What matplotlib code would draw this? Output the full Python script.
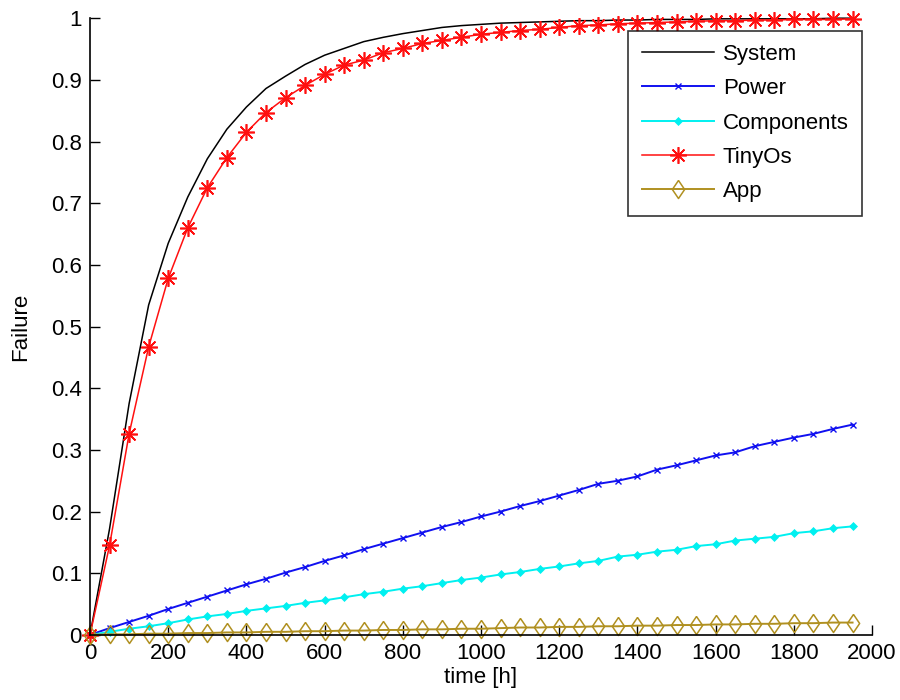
import matplotlib
matplotlib.use("Agg")
import matplotlib.pyplot as plt
from matplotlib.ticker import FuncFormatter

plt.rcParams['font.family'] = ['Liberation Sans', 'DejaVu Sans']

# time axis in hours, sampled every 50 h
time_h = [0, 50, 100, 150, 200, 250, 300, 350, 400, 450,
          500, 550, 600, 650, 700, 750, 800, 850, 900, 950,
          1000, 1050, 1100, 1150, 1200, 1250, 1300, 1350, 1400, 1450,
          1500, 1550, 1600, 1650, 1700, 1750, 1800, 1850, 1900, 1950]

system = [0.000, 0.172, 0.375, 0.535, 0.635, 0.710, 0.772, 0.820, 0.856, 0.886,
          0.906, 0.925, 0.940, 0.951, 0.962, 0.969, 0.975, 0.980, 0.985, 0.988,
          0.990, 0.992, 0.993, 0.994, 0.995, 0.996, 0.996, 0.997, 0.997, 0.998,
          0.998, 0.998, 0.999, 0.999, 0.999, 0.999, 0.999, 0.999, 1.000, 1.000]

power = [0.000, 0.011, 0.021, 0.031, 0.042, 0.052, 0.062, 0.072, 0.082, 0.091,
         0.101, 0.110, 0.120, 0.129, 0.139, 0.148, 0.157, 0.166, 0.175, 0.183,
         0.192, 0.200, 0.209, 0.217, 0.226, 0.235, 0.245, 0.250, 0.257, 0.268,
         0.275, 0.283, 0.291, 0.296, 0.306, 0.313, 0.320, 0.326, 0.334, 0.341]

components = [0.000, 0.005, 0.010, 0.014, 0.019, 0.025, 0.030, 0.034, 0.039, 0.043,
              0.047, 0.052, 0.056, 0.061, 0.066, 0.070, 0.075, 0.079, 0.084, 0.089,
              0.093, 0.098, 0.102, 0.107, 0.111, 0.116, 0.120, 0.127, 0.130, 0.135,
              0.138, 0.144, 0.147, 0.153, 0.156, 0.159, 0.165, 0.168, 0.173, 0.176]

tinyos = [0.000, 0.145, 0.326, 0.467, 0.578, 0.660, 0.725, 0.774, 0.815, 0.847,
          0.871, 0.891, 0.909, 0.924, 0.932, 0.944, 0.951, 0.959, 0.964, 0.969,
          0.974, 0.977, 0.980, 0.982, 0.985, 0.988, 0.989, 0.991, 0.992, 0.993,
          0.994, 0.995, 0.996, 0.996, 0.997, 0.997, 0.998, 0.998, 0.998, 0.999]

app = [0.000, 0.001, 0.001, 0.002, 0.002, 0.003, 0.003, 0.004, 0.004, 0.005,
       0.005, 0.006, 0.006, 0.007, 0.007, 0.008, 0.008, 0.009, 0.009, 0.010,
       0.010, 0.011, 0.012, 0.012, 0.013, 0.013, 0.014, 0.014, 0.015, 0.015,
       0.016, 0.016, 0.017, 0.017, 0.018, 0.018, 0.019, 0.019, 0.020, 0.020]

x_ticks = [0, 200, 400, 600, 800, 1000, 1200, 1400, 1600, 1800, 2000]
y_ticks = [0, 0.1, 0.2, 0.3, 0.4, 0.5, 0.6, 0.7, 0.8, 0.9, 1]

FS = 16

fig = plt.figure(figsize=(9, 7), dpi=100)
ax = fig.add_axes([0.1, 0.093, 0.869, 0.881])

# 8-spoke asterisk and a tall open diamond
asterisk = (8, 2, 0)
tall_diamond = [(0, 1), (0.68, 0), (0, -1), (-0.68, 0), (0, 1)]

ax.plot(time_h, system, color='black', lw=1.1, label='System', clip_on=False)
ax.plot(time_h, power, color='#1010F0', lw=1.4, marker='x', ms=5, mew=1.0,
        label='Power', clip_on=False)
ax.plot(time_h, components, color='#00F0F0', lw=1.4, marker='D', ms=4.5, mew=0.5,
        label='Components', clip_on=False)
ax.plot(time_h, tinyos, color='#FF1010', lw=1.1, marker=asterisk, ms=12, mew=1.2,
        label='TinyOs', clip_on=False)
ax.plot(time_h, app, color='#B09020', lw=1.4, marker=tall_diamond, ms=13, mfc='none',
        mew=1.1, label='App', clip_on=False)

ax.set_xlim(0, 2000)
ax.set_ylim(0, 1)
ax.set_xticks(x_ticks)
ax.set_yticks(y_ticks)
ax.yaxis.set_major_formatter(FuncFormatter(lambda v, p: '%g' % v))
ax.xaxis.set_major_formatter(FuncFormatter(lambda v, p: '%g' % v))

for side in ('top', 'right'):
    ax.spines[side].set_visible(False)
for side in ('left', 'bottom'):
    ax.spines[side].set_linewidth(1.2)

ax.tick_params(direction='in', length=7, width=1.0, labelsize=FS, pad=6)

ax.set_xlabel('time [h]', fontsize=FS, labelpad=2)
ax.set_ylabel('Failure', fontsize=FS, labelpad=14)

leg = ax.legend(loc='upper right', bbox_to_anchor=(0.987, 0.98), fontsize=FS,
                frameon=True, fancybox=False, edgecolor='black',
                handlelength=3.25, handletextpad=0.4, borderpad=0.6,
                labelspacing=0.6, borderaxespad=0.0)
leg.get_frame().set_linewidth(1.2)

fig.savefig('out.png', dpi=100)
